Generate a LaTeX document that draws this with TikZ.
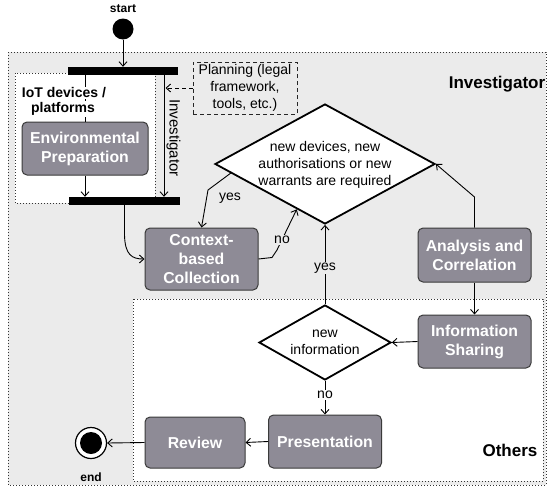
\documentclass[tikz,border=0pt]{standalone}
\usepackage{fontspec}
\setmainfont{Liberation Sans}
\usetikzlibrary{shapes.geometric,arrows.meta,calc}
\definecolor{bggrey}{HTML}{EBEBEB}
\definecolor{boxfill}{HTML}{8E8B96}
\definecolor{boxline}{HTML}{3A3A3A}
\begin{document}
\begin{tikzpicture}[x=1pt,y=-1pt,
  region/.style={draw=black!80, line width=0.9pt, dash pattern=on 1pt off 2pt},
  actbox/.style={draw=boxline, line width=1pt, fill=boxfill, rounded corners=5pt, text=white, font=\fontsize{15.8}{19}\selectfont\bfseries, align=center, inner sep=0pt},
  bar/.style={fill=black, draw=none, inner sep=0pt, minimum height=8pt},
  dec/.style={diamond, draw=black, line width=1.8pt, fill=white, inner sep=0pt},
  txt/.style={font=\fontsize{14}{17}\selectfont, align=center, inner sep=1pt},
  lbl/.style={font=\fontsize{17}{20}\selectfont\bfseries},
  small/.style={font=\fontsize{12}{14}\selectfont\bfseries},
  flow/.style={draw=black, line width=0.9pt, -{Straight Barb[length=4.5pt,width=8pt]}},
]
\useasboundingbox (0,0) rectangle (548,490);
% regions
\draw[region, fill=bggrey] (8,52) rectangle (546,485);
\draw[region, fill=white] (15,73) rectangle (155,203);
\draw[region, fill=white] (133,299) rectangle (543,481);

\node[lbl] (invlbl) at (497,84) {Investigator};
\node[lbl] (othlbl) at (510,450) {Others};

% start / bars
\node[small] (startlbl) at (123,9) {start};
\node[circle, fill=black, minimum size=21pt, inner sep=0pt] (start) at (123,29) {};
\node[bar, minimum width=110pt] (bar1) at (123,71) {};
\node[bar, minimum width=111pt] (bar2) at (124.5,201) {};

% activity boxes
\node[actbox, minimum width=126pt, minimum height=53pt] (env) at (85,148.5) {Environmental\\Preparation};
\node[actbox, minimum width=113pt, minimum height=62pt] (ctx) at (201.5,259) {Context-\\based\\Collection};
\node[actbox, minimum width=113pt, minimum height=54pt] (an) at (474.5,255) {Analysis and\\Correlation};
\node[actbox, minimum width=113pt, minimum height=53pt] (info) at (474.5,341.5) {Information\\Sharing};
\node[actbox, minimum width=113pt, minimum height=53pt] (pres) at (325,441.5) {Presentation};
\node[actbox, minimum width=100pt, minimum height=51pt] (rev) at (195,442.5) {Review};

% decisions
\node[dec, minimum width=220pt, minimum height=120pt] (d1) at (325,164) {};
\node[txt] (d1txt) at (325,165) {new devices, new\\authorisations or new\\warrants are required};
\node[dec, minimum width=132pt, minimum height=75pt] (d2) at (325,342.5) {};
\node[txt] (d2txt) at (325,342) {new\\information};

% planning
\node[txt, draw=black!85, line width=0.9pt, dash pattern=on 4pt off 3pt, minimum width=104pt, minimum height=52pt, inner sep=0pt] (plan) at (245,88) {Planning (legal\\framework,\\tools, etc.)};

% end
\node[circle, draw=black, line width=1.2pt, fill=white, minimum size=31pt, inner sep=0pt] (fin) at (91,443) {};
\node[circle, fill=black, minimum size=22pt, inner sep=0pt] (fininner) at (fin.center) {};
\node[small] (endlbl) at (91,477) {end};

% connectors
\draw[flow] (start.south) -- (bar1.north);
\draw[line width=0.9pt] (bar1.south -| env.north) -- (env.north);
\node[font=\fontsize{14}{16}\selectfont\bfseries, fill=white, inner sep=1pt] (iot1) at (64,93) {IoT devices /};
\node[font=\fontsize{14}{16}\selectfont\bfseries, fill=white, inner sep=1pt] (iot2) at (63,109) {platforms};
\draw[flow] (env.south) -- (bar2.north -| env.south);

\coordinate (invx) at (164,0);
\draw[flow] (bar1.south -| invx) -- (bar2.north -| invx);
\node[txt, font=\fontsize{15}{17}\selectfont, rotate=-90] (invv) at (173.5,138) {Investigator};
\coordinate (planend) at (165.5,88);
\draw[flow, dash pattern=on 4pt off 3pt] (plan.west) -- (planend);

\draw[flow] (bar2.south) -- (124.5,235) .. controls (125,255) and (132,259) .. (ctx.west);

\coordinate (yesbend) at (208,190);
\draw[flow] ($(d1.west)!0.15!(d1.south)$) -- (yesbend) -- (ctx.north);
\node[txt] (yes1) at (230,198) {yes};

\draw[flow] (ctx.east) -- (272,257.5) -- (277,250) -- ($(d1.west)!0.745!(d1.south)$);
\node[txt, fill=bggrey] (no1) at (282,240) {no};

\coordinate (anbend) at (474.5,197);
\draw[flow] (an.north) -- (anbend) -- (d1.east);
\draw[flow] (an.south) -- (info.north);
\draw[flow] (info.west) -- (d2.east);
\draw[flow] (d2.north) -- (d1.south);
\node[txt, fill=bggrey] (yes2) at (325,268) {yes};
\draw[flow] (d2.south) -- (pres.north);
\node[txt, fill=white] (no2) at (325,395) {no};
\draw[flow] (pres.west) -- (rev.east);
\draw[flow] (rev.west) -- (fin.east);
\end{tikzpicture}
\end{document}
